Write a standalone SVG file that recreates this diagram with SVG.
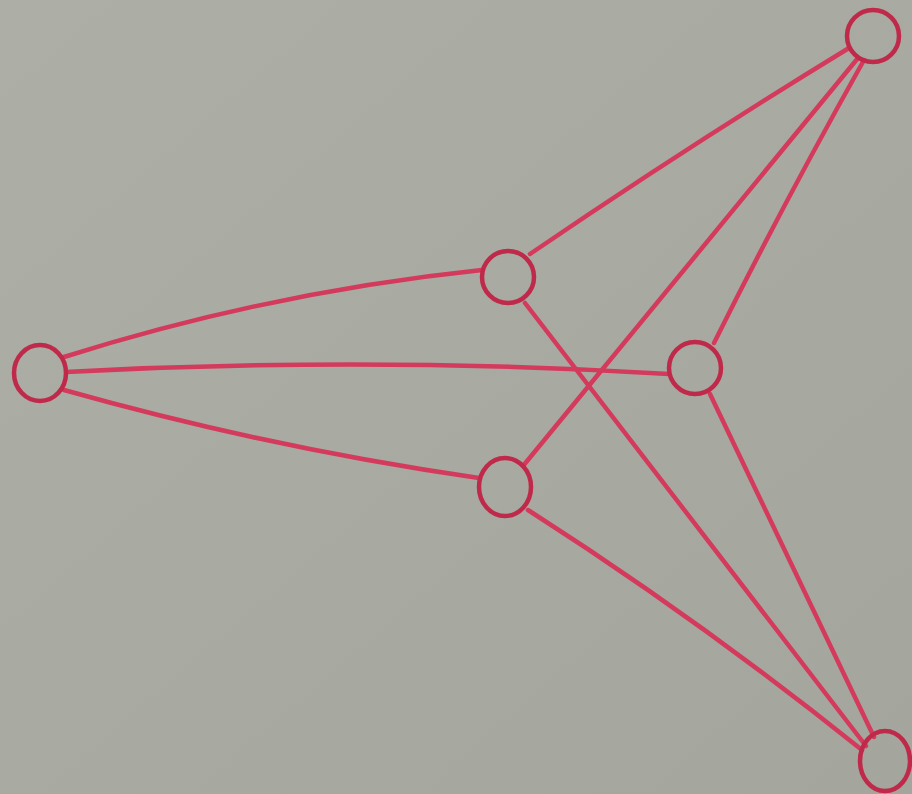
<svg xmlns="http://www.w3.org/2000/svg" width="912" height="794" viewBox="0 0 912 794">
<defs>
<linearGradient id="bg" x1="0" y1="0" x2="1" y2="1">
<stop offset="0" stop-color="#adaea6"/>
<stop offset="1" stop-color="#a4a59d"/>
</linearGradient>
</defs>
<style>
.e{fill:none;stroke:#d43a5c;stroke-width:4.5;stroke-linecap:round}
.n{fill:none;stroke:#c02a4a;stroke-width:4.5}
</style>
<rect width="912" height="794" fill="url(#bg)"/>
<g id="connectors">
<path class="e" d="M64 357 Q270 292 482 270"/>
<path class="e" d="M66 372 Q370 356 669 374"/>
<path class="e" d="M64 390 Q270 448 479 478"/>
<path class="e" d="M530 254 Q690 145 849 48"/>
<path class="e" d="M525 303 Q700 530 866 746"/>
<path class="e" d="M523 466 Q700 250 858 58"/>
<path class="e" d="M714 343 Q780 210 864 60"/>
<path class="e" d="M710 394 Q790 560 874 737"/>
<path class="e" d="M528 510 Q700 620 862 750"/>
</g>
<g id="n1"><ellipse class="n" cx="40" cy="373" rx="26" ry="28"/></g>
<g id="n2"><circle class="n" cx="508" cy="277" r="26"/></g>
<g id="n3"><circle class="n" cx="873" cy="36" r="26"/></g>
<g id="n4"><circle class="n" cx="695" cy="368" r="26"/></g>
<g id="n5"><ellipse class="n" cx="505" cy="487" rx="26" ry="29"/></g>
<g id="n6"><ellipse class="n" cx="885" cy="761" rx="25" ry="30"/></g>
</svg>
